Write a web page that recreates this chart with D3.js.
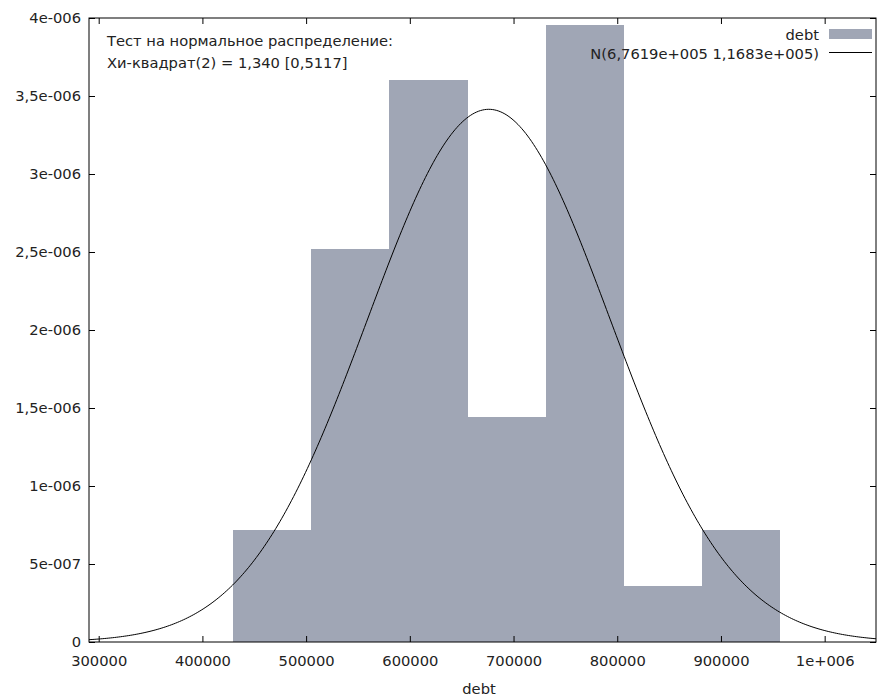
<!DOCTYPE html>
<html>
<head>
<meta charset="utf-8">
<script src="https://cdn.jsdelivr.net/npm/d3@7"></script>
<style>
  body { margin: 0; background: #fff; }
  text { font-family: "DejaVu Sans", Verdana, sans-serif; fill: #222; }
</style>
</head>
<body>
<div id="app"></div>
<script>
// histogram of debt (density), 7 bins
const binEdges = [429800, 505100, 580400, 655700, 731000, 806300, 881600, 956900];
const density = [7.2e-7, 2.52e-6, 3.6e-6, 1.44e-6, 3.955e-6, 3.6e-7, 7.2e-7];

// fitted normal N(mean, sd)
const normMean = 676190;
const normSd = 116830;

const xTicks = [300000, 400000, 500000, 600000, 700000, 800000, 900000, 1000000];
const xTickLabels = ["300000", "400000", "500000", "600000", "700000", "800000", "900000", "1e+006"];
const yTicks = [0, 5e-7, 1e-6, 1.5e-6, 2e-6, 2.5e-6, 3e-6, 3.5e-6, 4e-6];
const yTickLabels = ["0", "5e-007", "1e-006", "1,5e-006", "2e-006", "2,5e-006", "3e-006", "3,5e-006", "4e-006"];

const testLines = ["Тест на нормальное распределение:", "Хи-квадрат(2) = 1,340 [0,5117]"];
const legendLabels = ["debt", "N(6,7619e+005 1,1683e+005)"];

const W = 877, H = 697;
const L = 89, R = 876, T = 18, B = 642;
const fs = '14.7px';

const svg = d3.select('#app').append('svg').attr('width', W).attr('height', H);

const x = d3.scaleLinear().domain([290650, 1049500]).range([L, R]);
const y = d3.scaleLinear().domain([0, 4e-6]).range([B, T]);

svg.append('clipPath').attr('id', 'plot')
    .append('rect').attr('x', L).attr('y', T).attr('width', R - L).attr('height', B - T);

const plot = svg.append('g').attr('clip-path', 'url(#plot)');

plot.selectAll('rect.bar')
    .data(density)
    .enter()
    .append('rect')
    .attr('class', 'bar')
    .attr('x', (d, i) => x(binEdges[i]))
    .attr('width', (d, i) => x(binEdges[i + 1]) - x(binEdges[i]))
    .attr('y', d => y(d))
    .attr('height', d => B - y(d))
    .attr('fill', '#a0a6b5')
    .attr('shape-rendering', 'crispEdges');

const pdf = v => Math.exp(-0.5 * Math.pow((v - normMean) / normSd, 2)) / (normSd * Math.sqrt(2 * Math.PI));
const curveX = d3.range(0, 401).map(i => x.invert(L + (R - L) * i / 400));
plot.append('path')
    .datum(curveX)
    .attr('d', d3.line().x(d => x(d)).y(d => y(pdf(d))))
    .attr('fill', 'none')
    .attr('stroke', '#000')
    .attr('stroke-width', 1);

// axes (ticks inward, mirrored)
svg.append('g').attr('transform', `translate(0,${B})`)
    .call(d3.axisBottom(x).tickValues(xTicks).tickSizeInner(-6).tickSizeOuter(0).tickPadding(14)
        .tickFormat((d, i) => xTickLabels[i]));
svg.append('g').attr('transform', `translate(0,${T})`)
    .call(d3.axisTop(x).tickValues(xTicks).tickSizeInner(-6).tickSizeOuter(0).tickFormat(''));
svg.append('g').attr('transform', `translate(${L},0)`)
    .call(d3.axisLeft(y).tickValues(yTicks).tickSizeInner(-6).tickSizeOuter(0).tickPadding(8)
        .tickFormat((d, i) => yTickLabels[i]));
svg.append('g').attr('transform', `translate(${R},0)`)
    .call(d3.axisRight(y).tickValues(yTicks).tickSizeInner(-6).tickSizeOuter(0).tickFormat(''));

svg.selectAll('.domain').remove();
svg.selectAll('.tick line').attr('stroke', '#000');
svg.selectAll('.tick text').style('font-size', fs).attr('fill', '#222');

svg.append('rect')
    .attr('x', L).attr('y', T).attr('width', R - L).attr('height', B - T)
    .attr('fill', 'none').attr('stroke', '#000').attr('stroke-width', 1);

svg.append('text').attr('x', 479).attr('y', 694)
    .attr('text-anchor', 'middle').style('font-size', fs).text('debt');

svg.selectAll('text.test')
    .data(testLines)
    .enter()
    .append('text')
    .attr('class', 'test')
    .attr('x', 107)
    .attr('y', (d, i) => 46 + i * 22)
    .style('font-size', fs)
    .text(d => d);

// legend
const leg = svg.append('g');
leg.selectAll('text')
    .data(legendLabels)
    .enter()
    .append('text')
    .attr('x', 819)
    .attr('y', (d, i) => 40 + i * 18.5)
    .attr('text-anchor', 'end')
    .style('font-size', fs)
    .text(d => d);
leg.append('rect').attr('x', 829).attr('y', 29).attr('width', 43).attr('height', 10).attr('fill', '#a0a6b5');
leg.append('line').attr('x1', 829).attr('x2', 872).attr('y1', 52.5).attr('y2', 52.5).attr('stroke', '#000');
</script>
</body>
</html>
